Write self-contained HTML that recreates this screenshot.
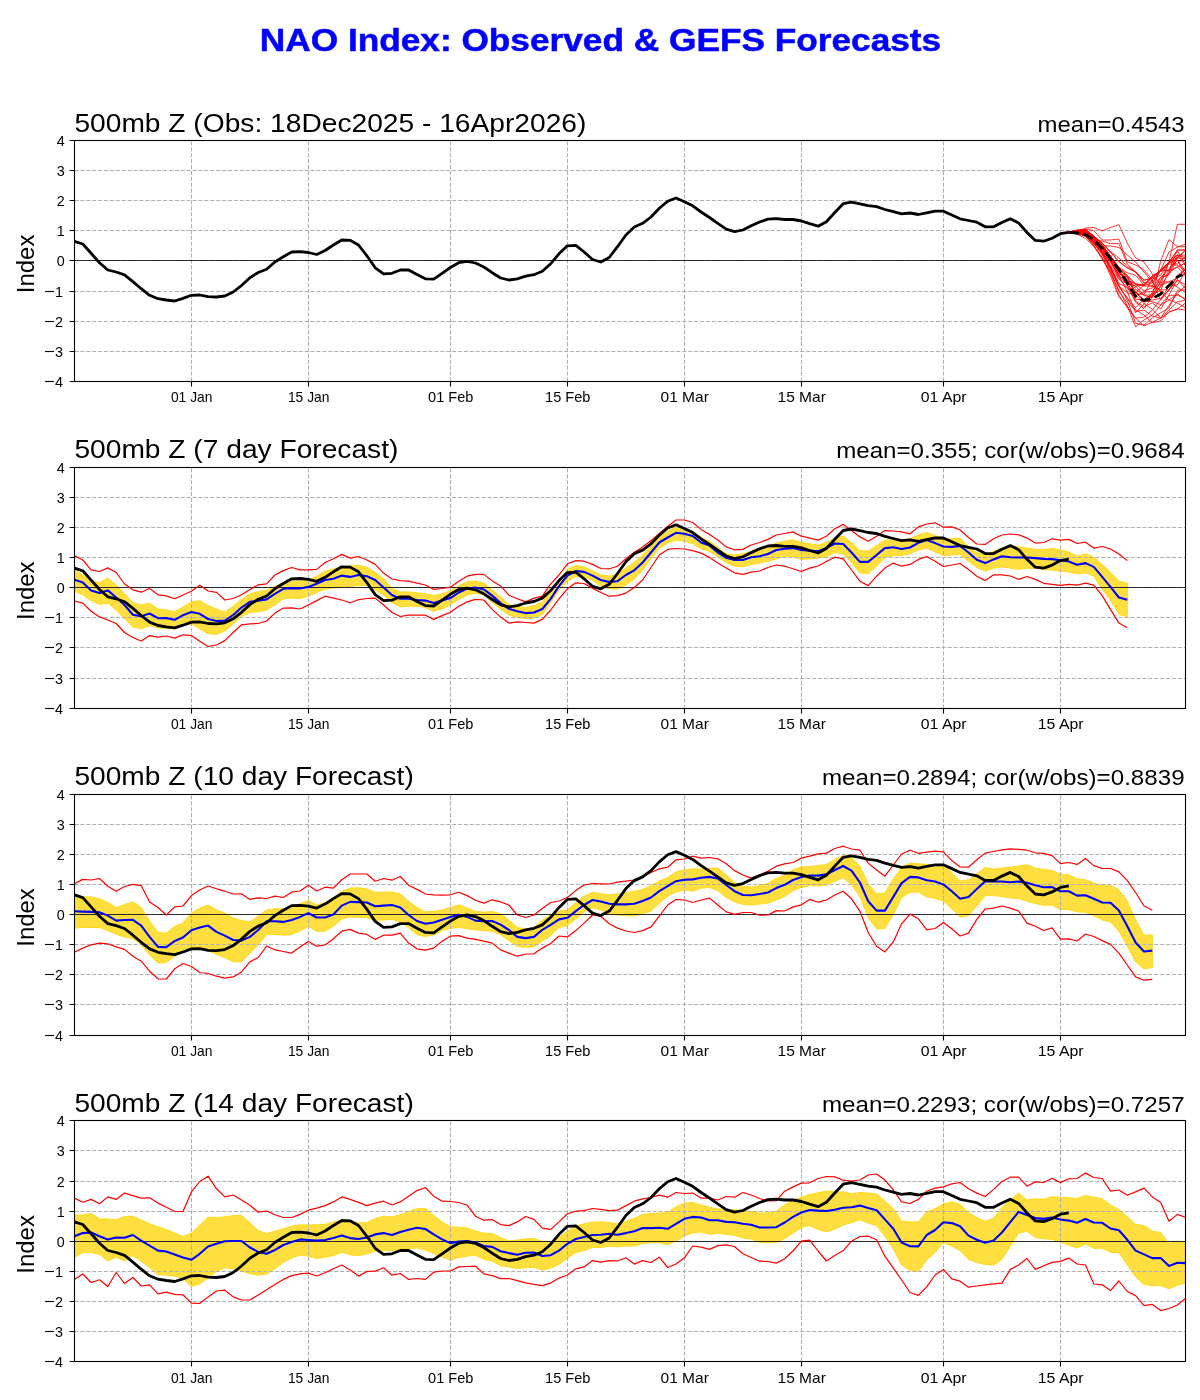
<!DOCTYPE html>
<html><head><meta charset="utf-8"><style>html,body{margin:0;padding:0;background:#fff;width:1200px;height:1400px;overflow:hidden}</style></head><body><svg width="1200" height="1400" viewBox="0 0 1200 1400" style="display:block;will-change:transform">
<rect width="1200" height="1400" fill="#fff"/>
<text x="259.8" y="51.2" font-family='"Liberation Sans", sans-serif' font-weight="bold" font-size="31.3" fill="#0000ff" stroke="#0000ff" stroke-width="0.5" textLength="681.4" lengthAdjust="spacingAndGlyphs">NAO Index: Observed &amp; GEFS Forecasts</text>
<g>
<defs><clipPath id="c0"><rect x="74.4" y="140.4" width="1111.348" height="241.0"/></clipPath></defs>
<g clip-path="url(#c0)">
<path d="M74.5 351.5H1185.5 M74.5 321.5H1185.5 M74.5 291.5H1185.5 M74.5 260.5H1185.5 M74.5 230.5H1185.5 M74.5 200.5H1185.5 M74.5 170.5H1185.5 M191.5 381.5V140.5 M308.5 381.5V140.5 M450.5 381.5V140.5 M567.5 381.5V140.5 M684.5 381.5V140.5 M801.5 381.5V140.5 M943.5 381.5V140.5 M1060.5 381.5V140.5" stroke="#b0b0b0" stroke-width="1.1" stroke-dasharray="4.1 1.8" fill="none"/>
<path d="M74.5 260.5H1185.5" stroke="#000" stroke-width="0.8"/>
<polyline points="74.4,241.3 82.8,244.0 91.1,253.3 99.5,262.7 107.8,270.0 116.2,272.0 124.5,274.9 132.9,281.6 141.2,288.7 149.6,295.3 158.0,298.7 166.3,300.0 174.7,301.0 183.0,298.4 191.4,295.3 199.7,295.0 208.1,296.7 216.5,297.0 224.8,296.0 233.2,292.0 241.5,285.5 249.9,277.8 258.2,272.5 266.6,269.2 274.9,262.0 283.3,256.7 291.7,252.0 300.0,251.7 308.4,252.5 316.7,254.5 325.1,250.5 333.4,245.0 341.8,240.0 350.1,240.3 358.5,245.0 366.9,255.8 375.2,267.8 383.6,273.8 391.9,273.3 400.3,270.0 408.6,270.0 417.0,274.6 425.4,278.8 433.7,279.2 442.1,273.3 450.4,267.5 458.8,262.7 467.1,261.3 475.5,263.0 483.8,267.0 492.2,272.7 500.6,278.0 508.9,280.0 517.3,278.8 525.6,276.2 534.0,274.7 542.3,271.3 550.7,263.7 559.0,253.8 567.4,245.8 575.8,245.3 584.1,252.0 592.5,259.5 600.8,262.0 609.2,257.5 617.5,246.7 625.9,235.0 634.3,227.0 642.6,223.3 651.0,217.0 659.3,208.3 667.7,201.2 676.0,198.0 684.4,201.7 692.7,205.8 701.1,212.0 709.5,217.5 717.8,223.3 726.2,229.2 734.5,231.7 742.9,230.0 751.2,225.8 759.6,222.0 767.9,219.2 776.3,218.7 784.7,219.5 793.0,219.5 801.4,221.0 809.7,223.7 818.1,226.2 826.4,221.7 834.8,212.5 843.2,203.7 851.5,202.2 859.9,203.8 868.2,205.7 876.6,206.7 884.9,209.5 893.3,211.7 901.6,213.8 910.0,213.0 918.4,214.5 926.7,212.8 935.1,211.2 943.4,211.2 951.8,215.0 960.1,218.8 968.5,220.5 976.8,222.2 985.2,226.8 993.6,226.8 1001.9,222.5 1010.3,218.7 1018.6,222.9 1027.0,232.5 1035.3,240.4 1043.7,241.2 1052.1,238.3 1060.4,233.7 1068.8,232.3" fill="none" stroke="#000" stroke-width="2.8" stroke-linejoin="round"/>
<polyline points="1068.8,232.3 1077.1,232.0 1085.5,228.0 1093.8,227.5 1102.2,231.0 1110.5,227.5 1118.9,224.7 1127.3,243.0 1135.6,258.0 1144.0,262.0 1152.3,274.0 1160.7,285.0 1169.0,262.0 1177.4,224.3 1185.7,224.3" fill="none" stroke="#ff0000" stroke-width="0.8" stroke-linejoin="round"/>
<polyline points="1068.8,232.3 1077.1,232.0 1085.5,229.0 1093.8,230.6 1102.2,240.0 1110.5,240.0 1118.9,239.0 1127.3,262.0 1135.6,265.0 1144.0,270.0 1152.3,280.0 1160.7,300.0 1169.0,290.0 1177.4,280.0 1185.7,285.0" fill="none" stroke="#ff0000" stroke-width="0.8" stroke-linejoin="round"/>
<polyline points="1068.8,232.3 1077.1,232.5 1085.5,230.0 1093.8,240.0 1102.2,241.0 1110.5,243.6 1118.9,243.6 1127.3,264.0 1135.6,272.0 1144.0,283.0 1152.3,286.0 1160.7,270.0 1169.0,252.0 1177.4,247.0 1185.7,244.0" fill="none" stroke="#ff0000" stroke-width="0.8" stroke-linejoin="round"/>
<polyline points="1068.8,232.3 1077.1,233.0 1085.5,232.0 1093.8,236.0 1102.2,246.0 1110.5,246.0 1118.9,247.5 1127.3,255.0 1135.6,262.0 1144.0,272.0 1152.3,282.0 1160.7,292.0 1169.0,300.0 1177.4,294.0 1185.7,300.0" fill="none" stroke="#ff0000" stroke-width="0.8" stroke-linejoin="round"/>
<polyline points="1068.8,232.3 1077.1,233.0 1085.5,236.0 1093.8,245.0 1102.2,258.0 1110.5,272.0 1118.9,290.0 1127.3,306.0 1135.6,326.8 1144.0,320.0 1152.3,315.0 1160.7,305.0 1169.0,300.0 1177.4,303.0 1185.7,308.0" fill="none" stroke="#ff0000" stroke-width="0.8" stroke-linejoin="round"/>
<polyline points="1068.8,232.3 1077.1,233.0 1085.5,236.0 1093.8,246.0 1102.2,259.0 1110.5,273.0 1118.9,295.0 1127.3,308.0 1135.6,318.0 1144.0,326.0 1152.3,322.0 1160.7,318.0 1169.0,310.0 1177.4,302.0 1185.7,300.0" fill="none" stroke="#ff0000" stroke-width="0.8" stroke-linejoin="round"/>
<polyline points="1068.8,232.3 1077.1,233.0 1085.5,234.0 1093.8,242.0 1102.2,252.0 1110.5,262.0 1118.9,278.0 1127.3,288.0 1135.6,292.0 1144.0,300.0 1152.3,296.0 1160.7,261.0 1169.0,239.6 1177.4,246.7 1185.7,246.7" fill="none" stroke="#ff0000" stroke-width="0.8" stroke-linejoin="round"/>
<polyline points="1068.8,232.3 1077.1,230.8 1085.5,229.8 1093.8,236.5 1102.2,245.1 1110.5,256.0 1118.9,267.1 1127.3,275.7 1135.6,284.0 1144.0,285.0 1152.3,276.0 1160.7,271.0 1169.0,270.2 1177.4,250.0 1185.7,250.0" fill="none" stroke="#ff0000" stroke-width="0.8" stroke-linejoin="round"/>
<polyline points="1068.8,232.3 1077.1,233.1 1085.5,234.9 1093.8,243.7 1102.2,252.8 1110.5,269.6 1118.9,286.2 1127.3,292.7 1135.6,295.6 1144.0,292.0 1152.3,291.6 1160.7,279.6 1169.0,272.7 1177.4,266.7 1185.7,263.2" fill="none" stroke="#ff0000" stroke-width="0.8" stroke-linejoin="round"/>
<polyline points="1068.8,232.3 1077.1,231.1 1085.5,230.6 1093.8,237.8 1102.2,247.0 1110.5,258.1 1118.9,270.8 1127.3,279.5 1135.6,284.1 1144.0,291.0 1152.3,287.7 1160.7,277.1 1169.0,269.9 1177.4,260.1 1185.7,271.5" fill="none" stroke="#ff0000" stroke-width="0.8" stroke-linejoin="round"/>
<polyline points="1068.8,232.3 1077.1,233.4 1085.5,234.9 1093.8,242.2 1102.2,253.3 1110.5,266.9 1118.9,283.5 1127.3,287.5 1135.6,301.4 1144.0,306.5 1152.3,303.0 1160.7,309.1 1169.0,295.4 1177.4,295.2 1185.7,298.8" fill="none" stroke="#ff0000" stroke-width="0.8" stroke-linejoin="round"/>
<polyline points="1068.8,232.3 1077.1,232.6 1085.5,235.1 1093.8,242.6 1102.2,253.5 1110.5,266.8 1118.9,284.9 1127.3,300.3 1135.6,323.4 1144.0,325.0 1152.3,317.9 1160.7,312.8 1169.0,308.0 1177.4,290.2 1185.7,289.7" fill="none" stroke="#ff0000" stroke-width="0.8" stroke-linejoin="round"/>
<polyline points="1068.8,232.3 1077.1,230.2 1085.5,230.1 1093.8,236.0 1102.2,245.0 1110.5,256.0 1118.9,269.7 1127.3,275.7 1135.6,284.0 1144.0,286.0 1152.3,286.2 1160.7,289.8 1169.0,289.9 1177.4,276.4 1185.7,274.3" fill="none" stroke="#ff0000" stroke-width="0.8" stroke-linejoin="round"/>
<polyline points="1068.8,232.3 1077.1,232.1 1085.5,232.5 1093.8,238.8 1102.2,247.5 1110.5,258.5 1118.9,270.7 1127.3,281.9 1135.6,286.1 1144.0,285.0 1152.3,276.0 1160.7,271.0 1169.0,263.7 1177.4,265.3 1185.7,271.3" fill="none" stroke="#ff0000" stroke-width="0.8" stroke-linejoin="round"/>
<polyline points="1068.8,232.3 1077.1,232.2 1085.5,232.5 1093.8,240.6 1102.2,251.5 1110.5,267.6 1118.9,286.7 1127.3,297.9 1135.6,307.8 1144.0,299.2 1152.3,295.9 1160.7,281.2 1169.0,262.0 1177.4,250.0 1185.7,250.0" fill="none" stroke="#ff0000" stroke-width="0.8" stroke-linejoin="round"/>
<polyline points="1068.8,232.3 1077.1,230.2 1085.5,229.5 1093.8,236.0 1102.2,245.0 1110.5,256.0 1118.9,269.7 1127.3,281.1 1135.6,284.0 1144.0,285.0 1152.3,276.0 1160.7,271.0 1169.0,262.0 1177.4,260.3 1185.7,275.3" fill="none" stroke="#ff0000" stroke-width="0.8" stroke-linejoin="round"/>
<polyline points="1068.8,232.3 1077.1,231.2 1085.5,230.6 1093.8,236.9 1102.2,245.3 1110.5,258.0 1118.9,267.7 1127.3,275.7 1135.6,293.7 1144.0,294.6 1152.3,279.0 1160.7,275.2 1169.0,262.0 1177.4,250.8 1185.7,265.2" fill="none" stroke="#ff0000" stroke-width="0.8" stroke-linejoin="round"/>
<polyline points="1068.8,232.3 1077.1,233.8 1085.5,236.3 1093.8,243.3 1102.2,254.7 1110.5,270.8 1118.9,291.6 1127.3,302.7 1135.6,309.6 1144.0,315.1 1152.3,322.7 1160.7,321.0 1169.0,312.0 1177.4,309.0 1185.7,310.0" fill="none" stroke="#ff0000" stroke-width="0.8" stroke-linejoin="round"/>
<polyline points="1068.8,232.3 1077.1,230.6 1085.5,229.5 1093.8,236.0 1102.2,245.0 1110.5,256.0 1118.9,268.4 1127.3,285.8 1135.6,294.7 1144.0,303.7 1152.3,309.4 1160.7,317.9 1169.0,305.5 1177.4,293.1 1185.7,285.6" fill="none" stroke="#ff0000" stroke-width="0.8" stroke-linejoin="round"/>
<polyline points="1068.8,232.3 1077.1,230.4 1085.5,230.8 1093.8,238.4 1102.2,247.8 1110.5,261.0 1118.9,276.8 1127.3,280.1 1135.6,292.6 1144.0,301.2 1152.3,301.7 1160.7,304.6 1169.0,295.0 1177.4,279.5 1185.7,288.7" fill="none" stroke="#ff0000" stroke-width="0.8" stroke-linejoin="round"/>
<polyline points="1068.8,232.3 1077.1,231.9 1085.5,232.7 1093.8,239.5 1102.2,250.7 1110.5,265.6 1118.9,279.3 1127.3,283.9 1135.6,286.1 1144.0,295.1 1152.3,295.0 1160.7,282.4 1169.0,281.6 1177.4,287.3 1185.7,292.6" fill="none" stroke="#ff0000" stroke-width="0.8" stroke-linejoin="round"/>
<polyline points="1068.8,232.3 1077.1,230.8 1085.5,229.6 1093.8,237.4 1102.2,247.1 1110.5,259.3 1118.9,275.2 1127.3,284.5 1135.6,302.3 1144.0,308.6 1152.3,296.9 1160.7,287.0 1169.0,272.9 1177.4,255.2 1185.7,257.8" fill="none" stroke="#ff0000" stroke-width="0.8" stroke-linejoin="round"/>
<polyline points="1068.8,232.3 1077.1,230.3 1085.5,230.6 1093.8,236.9 1102.2,246.0 1110.5,257.9 1118.9,272.8 1127.3,281.4 1135.6,299.6 1144.0,299.6 1152.3,293.9 1160.7,290.6 1169.0,269.6 1177.4,257.2 1185.7,250.0" fill="none" stroke="#ff0000" stroke-width="0.8" stroke-linejoin="round"/>
<polyline points="1068.8,232.3 1077.1,230.2 1085.5,229.5 1093.8,236.6 1102.2,245.9 1110.5,256.5 1118.9,267.9 1127.3,277.8 1135.6,292.6 1144.0,285.1 1152.3,277.6 1160.7,271.0 1169.0,262.0 1177.4,258.0 1185.7,258.4" fill="none" stroke="#ff0000" stroke-width="0.8" stroke-linejoin="round"/>
<polyline points="1068.8,232.3 1077.1,232.9 1085.5,234.6 1093.8,242.4 1102.2,252.8 1110.5,267.8 1118.9,286.4 1127.3,298.6 1135.6,311.5 1144.0,310.1 1152.3,315.9 1160.7,318.4 1169.0,312.0 1177.4,309.0 1185.7,302.8" fill="none" stroke="#ff0000" stroke-width="0.8" stroke-linejoin="round"/>
<polyline points="1068.8,232.3 1077.1,233.0 1085.5,234.2 1093.8,240.6 1102.2,250.4 1110.5,262.1 1118.9,274.5 1127.3,277.0 1135.6,289.2 1144.0,295.5 1152.3,297.7 1160.7,285.4 1169.0,281.8 1177.4,278.1 1185.7,267.9" fill="none" stroke="#ff0000" stroke-width="0.8" stroke-linejoin="round"/>
<polyline points="1068.8,232.3 1077.1,234.2 1085.5,238.3 1093.8,246.4 1102.2,257.4 1110.5,275.7 1118.9,297.0 1127.3,306.3 1135.6,318.2 1144.0,317.2 1152.3,310.0 1160.7,299.6 1169.0,286.0 1177.4,284.9 1185.7,271.1" fill="none" stroke="#ff0000" stroke-width="0.8" stroke-linejoin="round"/>
<polyline points="1068.8,232.3 1077.1,231.5 1085.5,231.7 1093.8,238.9 1102.2,248.6 1110.5,259.4 1118.9,275.6 1127.3,291.6 1135.6,312.7 1144.0,303.8 1152.3,292.5 1160.7,277.1 1169.0,275.1 1177.4,258.6 1185.7,250.0" fill="none" stroke="#ff0000" stroke-width="0.8" stroke-linejoin="round"/>
<polyline points="1068.8,232.3 1077.1,233.1 1085.5,233.8 1093.8,238.8 1102.2,246.7 1110.5,257.3 1118.9,267.4 1127.3,272.8 1135.6,275.2 1144.0,285.4 1152.3,283.0 1160.7,270.0 1169.0,270.7 1177.4,267.0 1185.7,276.0" fill="none" stroke="#ff0000" stroke-width="0.8" stroke-linejoin="round"/>
<polyline points="1068.8,232.3 1077.1,231.7 1085.5,231.8 1093.8,236.9 1102.2,242.9 1110.5,251.5 1118.9,261.5 1127.3,267.8 1135.6,272.0 1144.0,280.3 1152.3,278.0 1160.7,270.0 1169.0,262.0 1177.4,255.0 1185.7,255.0" fill="none" stroke="#ff0000" stroke-width="0.8" stroke-linejoin="round"/>
<polyline points="1068.8,232.3 1077.1,232.3 1085.5,232.3 1093.8,237.6 1102.2,243.4 1110.5,251.5 1118.9,258.0 1127.3,266.0 1135.6,272.0 1144.0,282.8 1152.3,281.8 1160.7,270.0 1169.0,262.0 1177.4,264.1 1185.7,256.0" fill="none" stroke="#ff0000" stroke-width="0.8" stroke-linejoin="round"/>
<polyline points="1068.8,232.3 1077.1,233.5 1085.5,235.5 1093.8,241.2 1102.2,248.9 1110.5,261.1 1118.9,272.0 1127.3,280.5 1135.6,292.0 1144.0,300.0 1152.3,300.0 1160.7,298.3 1169.0,290.1 1177.4,275.4 1185.7,269.5" fill="none" stroke="#ff0000" stroke-width="0.8" stroke-linejoin="round"/>
<polyline points="1068.8,232.3 1077.1,231.7 1085.5,231.0 1093.8,236.0 1102.2,242.8 1110.5,252.6 1118.9,261.7 1127.3,268.1 1135.6,272.0 1144.0,280.0 1152.3,278.0 1160.7,270.0 1169.0,262.0 1177.4,255.0 1185.7,266.1" fill="none" stroke="#ff0000" stroke-width="0.8" stroke-linejoin="round"/>
<polyline points="1068.8,232.3 1077.1,233.0 1085.5,234.5 1093.8,240.0 1102.2,248.5 1110.5,258.5 1118.9,269.5 1127.3,283.0 1135.6,296.5 1144.0,300.5 1152.3,298.5 1160.7,294.0 1169.0,285.5 1177.4,277.0 1182.4,274.5" fill="none" stroke="#000" stroke-width="2.8" stroke-dasharray="10.3 4.4"/>
</g>
<rect x="74.5" y="140.5" width="1111.0" height="241.0" fill="none" stroke="#000" stroke-width="1.1"/>
<path d="M69.6 381.5H74.5 M69.6 351.5H74.5 M69.6 321.5H74.5 M69.6 291.5H74.5 M69.6 260.5H74.5 M69.6 230.5H74.5 M69.6 200.5H74.5 M69.6 170.5H74.5 M69.6 140.5H74.5 M191.5 381.5V386.4 M308.5 381.5V386.4 M450.5 381.5V386.4 M567.5 381.5V386.4 M684.5 381.5V386.4 M801.5 381.5V386.4 M943.5 381.5V386.4 M1060.5 381.5V386.4" stroke="#000" stroke-width="1.1"/>
<text x="62.9" y="387.0" font-family='"Liberation Sans", sans-serif' font-size="14.3" text-anchor="end">4</text>
<rect x="45.1" y="380.95" width="8.9" height="1.1" fill="#000"/>
<text x="62.9" y="357.0" font-family='"Liberation Sans", sans-serif' font-size="14.3" text-anchor="end">3</text>
<rect x="45.1" y="350.95" width="8.9" height="1.1" fill="#000"/>
<text x="62.9" y="327.0" font-family='"Liberation Sans", sans-serif' font-size="14.3" text-anchor="end">2</text>
<rect x="45.1" y="320.95" width="8.9" height="1.1" fill="#000"/>
<text x="62.9" y="297.0" font-family='"Liberation Sans", sans-serif' font-size="14.3" text-anchor="end">1</text>
<rect x="45.1" y="290.95" width="8.9" height="1.1" fill="#000"/>
<text x="64.6" y="266.0" font-family='"Liberation Sans", sans-serif' font-size="14.3" text-anchor="end">0</text>
<text x="64.6" y="236.0" font-family='"Liberation Sans", sans-serif' font-size="14.3" text-anchor="end">1</text>
<text x="64.6" y="206.0" font-family='"Liberation Sans", sans-serif' font-size="14.3" text-anchor="end">2</text>
<text x="64.6" y="176.0" font-family='"Liberation Sans", sans-serif' font-size="14.3" text-anchor="end">3</text>
<text x="64.6" y="146.0" font-family='"Liberation Sans", sans-serif' font-size="14.3" text-anchor="end">4</text>
<text x="191.7" y="402.4" font-family='"Liberation Sans", sans-serif' font-size="13.9" text-anchor="middle" textLength="41.5" lengthAdjust="spacingAndGlyphs">01 Jan</text>
<text x="308.7" y="402.4" font-family='"Liberation Sans", sans-serif' font-size="13.9" text-anchor="middle" textLength="41.5" lengthAdjust="spacingAndGlyphs">15 Jan</text>
<text x="450.7" y="402.4" font-family='"Liberation Sans", sans-serif' font-size="13.9" text-anchor="middle" textLength="45.3" lengthAdjust="spacingAndGlyphs">01 Feb</text>
<text x="567.7" y="402.4" font-family='"Liberation Sans", sans-serif' font-size="13.9" text-anchor="middle" textLength="45.3" lengthAdjust="spacingAndGlyphs">15 Feb</text>
<text x="684.7" y="402.4" font-family='"Liberation Sans", sans-serif' font-size="13.9" text-anchor="middle" textLength="48.3" lengthAdjust="spacingAndGlyphs">01 Mar</text>
<text x="801.7" y="402.4" font-family='"Liberation Sans", sans-serif' font-size="13.9" text-anchor="middle" textLength="48.3" lengthAdjust="spacingAndGlyphs">15 Mar</text>
<text x="943.7" y="402.4" font-family='"Liberation Sans", sans-serif' font-size="13.9" text-anchor="middle" textLength="45.8" lengthAdjust="spacingAndGlyphs">01 Apr</text>
<text x="1060.7" y="402.4" font-family='"Liberation Sans", sans-serif' font-size="13.9" text-anchor="middle" textLength="45.8" lengthAdjust="spacingAndGlyphs">15 Apr</text>
<text x="74.4" y="131.8" font-family='"Liberation Sans", sans-serif' font-size="25.3" textLength="512.0" lengthAdjust="spacingAndGlyphs">500mb Z (Obs: 18Dec2025 - 16Apr2026)</text>
<text x="1184.6" y="131.8" font-family='"Liberation Sans", sans-serif' font-size="22.5" text-anchor="end" textLength="147.0" lengthAdjust="spacingAndGlyphs">mean=0.4543</text>
<text transform="translate(33.9,263.9) rotate(-90)" font-family='"Liberation Sans", sans-serif' font-size="24.4" text-anchor="middle" textLength="58.5" lengthAdjust="spacingAndGlyphs">Index</text>
</g>
<g>
<defs><clipPath id="c1"><rect x="74.4" y="467.22" width="1111.348" height="241.0"/></clipPath></defs>
<g clip-path="url(#c1)">
<polygon points="74.4,570.0 82.8,575.0 91.1,581.0 99.5,582.5 107.8,578.1 116.2,585.0 124.5,593.8 132.9,602.8 141.2,605.0 149.6,603.1 158.0,609.0 166.3,609.8 174.7,611.9 183.0,606.9 191.4,601.9 199.7,600.6 208.1,605.6 216.5,609.0 224.8,612.2 233.2,606.2 241.5,599.4 249.9,593.8 258.2,591.5 266.6,590.6 274.9,586.2 283.3,582.5 291.7,581.0 300.0,581.2 308.4,580.2 316.7,576.2 325.1,571.2 333.4,569.0 341.8,567.0 350.1,565.8 358.5,565.4 366.9,567.2 375.2,572.5 383.6,578.8 391.9,588.8 400.3,591.9 408.6,591.9 417.0,592.8 425.4,593.8 433.7,595.6 442.1,593.8 450.4,590.6 458.8,585.6 467.1,581.9 475.5,581.2 483.8,583.1 492.2,590.0 500.6,596.9 508.9,604.4 517.3,606.2 525.6,607.8 534.0,605.6 542.3,601.9 550.7,590.6 559.0,580.6 567.4,569.6 575.8,565.4 584.1,566.9 592.5,571.0 600.8,575.0 609.2,576.0 617.5,574.4 625.9,568.1 634.3,562.3 642.6,555.0 651.0,546.2 659.3,537.5 667.7,531.2 676.0,526.9 684.4,529.0 692.7,531.2 701.1,537.5 709.5,541.2 717.8,547.5 726.2,553.8 734.5,555.0 742.9,553.8 751.2,551.2 759.6,548.1 767.9,546.0 776.3,543.1 784.7,541.2 793.0,539.8 801.4,542.5 809.7,543.8 818.1,545.0 826.4,542.5 834.8,538.1 843.2,536.2 851.5,542.5 859.9,550.6 868.2,551.2 876.6,545.6 884.9,540.0 893.3,540.0 901.6,540.0 910.0,538.8 918.4,535.0 926.7,532.5 935.1,535.6 943.4,538.8 951.8,538.8 960.1,538.1 968.5,547.5 976.8,552.5 985.2,555.0 993.6,551.2 1001.9,548.1 1010.3,546.2 1018.6,546.9 1027.0,548.1 1035.3,549.4 1043.7,549.6 1052.1,548.3 1060.4,550.0 1068.8,551.9 1077.1,556.2 1085.5,553.8 1093.8,557.2 1102.2,564.4 1110.5,572.5 1118.9,581.2 1127.3,583.1 1127.3,616.9 1118.9,614.4 1110.5,600.0 1102.2,589.4 1093.8,576.2 1085.5,572.8 1077.1,574.0 1068.8,571.9 1060.4,571.2 1052.1,570.3 1043.7,569.1 1035.3,568.5 1027.0,568.1 1018.6,569.4 1010.3,568.1 1001.9,566.9 993.6,568.1 985.2,571.2 976.8,567.5 968.5,561.2 960.1,554.4 951.8,555.0 943.4,555.6 935.1,551.9 926.7,548.1 918.4,550.0 910.0,553.8 901.6,555.6 893.3,555.6 884.9,557.5 876.6,566.2 868.2,573.8 859.9,573.1 851.5,562.5 843.2,553.8 834.8,552.5 826.4,556.9 818.1,558.1 809.7,558.8 801.4,559.4 793.0,556.9 784.7,556.2 776.3,558.8 767.9,561.2 759.6,563.1 751.2,564.4 742.9,566.9 734.5,566.2 726.2,562.5 717.8,556.9 709.5,551.2 701.1,548.8 692.7,543.8 684.4,541.2 676.0,540.0 667.7,543.1 659.3,548.1 651.0,558.8 642.6,570.0 634.3,579.1 625.9,585.0 617.5,589.0 609.2,588.8 600.8,586.2 592.5,580.0 584.1,576.9 575.8,576.2 567.4,581.2 559.0,590.0 550.7,602.5 542.3,614.4 534.0,618.1 525.6,618.5 517.3,617.5 508.9,615.0 500.6,609.1 492.2,602.5 483.8,595.0 475.5,593.1 467.1,595.0 458.8,599.4 450.4,605.0 442.1,608.8 433.7,611.2 425.4,607.5 417.0,606.2 408.6,606.2 400.3,606.9 391.9,602.5 383.6,595.0 375.2,590.0 366.9,585.6 358.5,585.4 350.1,586.5 341.8,587.5 333.4,588.1 325.1,589.0 316.7,592.5 308.4,596.2 300.0,598.5 291.7,598.1 283.3,598.8 274.9,605.0 266.6,610.0 258.2,611.9 249.9,612.5 241.5,616.2 233.2,623.8 224.8,631.0 216.5,634.4 208.1,633.8 199.7,628.8 191.4,623.8 183.0,625.6 174.7,628.8 166.3,628.5 158.0,628.1 149.6,625.6 141.2,628.8 132.9,626.9 124.5,618.8 116.2,610.0 107.8,603.1 99.5,604.4 91.1,600.6 82.8,594.8 74.4,591.2" fill="#ffdf40" stroke="#ffd81a" stroke-width="1" stroke-linejoin="round"/>
<path d="M74.5 678.5H1185.5 M74.5 647.5H1185.5 M74.5 617.5H1185.5 M74.5 587.5H1185.5 M74.5 557.5H1185.5 M74.5 527.5H1185.5 M74.5 497.5H1185.5 M191.5 708.5V467.5 M308.5 708.5V467.5 M450.5 708.5V467.5 M567.5 708.5V467.5 M684.5 708.5V467.5 M801.5 708.5V467.5 M943.5 708.5V467.5 M1060.5 708.5V467.5" stroke="#b0b0b0" stroke-width="1.1" stroke-dasharray="4.1 1.8" fill="none"/>
<path d="M74.5 587.5H1185.5" stroke="#000" stroke-width="0.8"/>
<polyline points="74.4,555.6 82.8,560.0 91.1,569.8 99.5,571.5 107.8,567.9 116.2,572.5 124.5,584.0 132.9,589.8 141.2,592.2 149.6,588.5 158.0,594.8 166.3,595.9 174.7,598.8 183.0,595.0 191.4,591.2 199.7,585.2 208.1,591.0 216.5,592.4 224.8,600.0 233.2,598.5 241.5,594.8 249.9,589.4 258.2,584.8 266.6,583.8 274.9,575.0 283.3,570.6 291.7,567.5 300.0,569.8 308.4,569.8 316.7,569.4 325.1,562.5 333.4,558.8 341.8,554.4 350.1,558.1 358.5,556.5 366.9,560.0 375.2,564.4 383.6,573.1 391.9,579.0 400.3,580.6 408.6,581.2 417.0,583.1 425.4,585.0 433.7,589.4 442.1,588.5 450.4,587.2 458.8,581.2 467.1,576.2 475.5,574.4 483.8,574.4 492.2,580.9 500.6,585.9 508.9,595.2 517.3,598.8 525.6,601.9 534.0,598.1 542.3,596.2 550.7,583.8 559.0,575.0 567.4,563.8 575.8,560.6 584.1,561.2 592.5,564.4 600.8,568.5 609.2,568.8 617.5,566.2 625.9,558.8 634.3,552.2 642.6,546.9 651.0,540.6 659.3,533.5 667.7,526.5 676.0,520.0 684.4,520.0 692.7,522.5 701.1,529.4 709.5,534.4 717.8,540.0 726.2,546.9 734.5,549.8 742.9,549.4 751.2,545.0 759.6,542.5 767.9,539.4 776.3,535.0 784.7,533.5 793.0,531.9 801.4,536.2 809.7,538.1 818.1,540.2 826.4,536.2 834.8,528.8 843.2,524.4 851.5,530.6 859.9,536.9 868.2,541.2 876.6,536.2 884.9,530.6 893.3,531.0 901.6,531.9 910.0,533.8 918.4,526.9 926.7,524.0 935.1,522.8 943.4,527.2 951.8,526.9 960.1,530.0 968.5,537.5 976.8,544.0 985.2,544.4 993.6,538.8 1001.9,535.0 1010.3,534.0 1018.6,534.8 1027.0,538.1 1035.3,543.1 1043.7,542.5 1052.1,538.8 1060.4,540.1 1068.8,539.4 1077.1,543.5 1085.5,542.2 1093.8,548.1 1102.2,546.5 1110.5,549.0 1118.9,554.0 1127.3,560.6" fill="none" stroke="#ff0000" stroke-width="1.2" stroke-linejoin="round"/>
<polyline points="74.4,601.0 82.8,603.1 91.1,611.2 99.5,616.9 107.8,620.0 116.2,623.5 124.5,632.5 132.9,637.5 141.2,641.0 149.6,635.6 158.0,637.2 166.3,636.0 174.7,638.1 183.0,634.8 191.4,635.6 199.7,641.2 208.1,646.5 216.5,645.0 224.8,640.6 233.2,632.5 241.5,624.8 249.9,623.8 258.2,623.5 266.6,621.0 274.9,613.1 283.3,608.1 291.7,607.8 300.0,609.0 308.4,605.0 316.7,600.6 325.1,596.2 333.4,598.1 341.8,600.0 350.1,602.8 358.5,599.7 366.9,598.5 375.2,598.1 383.6,605.0 391.9,612.5 400.3,616.5 408.6,615.2 417.0,615.2 425.4,615.2 433.7,619.4 442.1,615.6 450.4,612.2 458.8,606.2 467.1,601.9 475.5,599.4 483.8,600.0 492.2,609.4 500.6,617.1 508.9,623.1 517.3,621.9 525.6,622.5 534.0,623.1 542.3,619.4 550.7,610.0 559.0,598.8 567.4,588.8 575.8,582.8 584.1,583.5 592.5,588.1 600.8,592.5 609.2,596.2 617.5,595.6 625.9,593.1 634.3,587.5 642.6,580.0 651.0,567.5 659.3,555.0 667.7,549.4 676.0,548.5 684.4,549.0 692.7,550.6 701.1,553.1 709.5,557.5 717.8,563.1 726.2,568.1 734.5,572.8 742.9,574.4 751.2,572.2 759.6,571.0 767.9,567.5 776.3,565.0 784.7,566.2 793.0,568.8 801.4,571.5 809.7,568.1 818.1,566.0 826.4,561.5 834.8,557.2 843.2,558.8 851.5,570.0 859.9,581.2 868.2,585.6 876.6,576.2 884.9,568.1 893.3,563.1 901.6,566.2 910.0,564.4 918.4,559.4 926.7,556.5 935.1,561.2 943.4,566.5 951.8,565.0 960.1,563.5 968.5,569.4 976.8,576.2 985.2,580.6 993.6,574.8 1001.9,574.8 1010.3,576.0 1018.6,579.4 1027.0,576.5 1035.3,579.4 1043.7,583.3 1052.1,584.4 1060.4,585.4 1068.8,584.4 1077.1,585.2 1085.5,583.1 1093.8,585.2 1102.2,595.6 1110.5,609.4 1118.9,623.1 1127.3,627.8" fill="none" stroke="#ff0000" stroke-width="1.2" stroke-linejoin="round"/>
<polyline points="74.4,579.8 82.8,582.5 91.1,590.6 99.5,593.1 107.8,590.4 116.2,597.5 124.5,605.0 132.9,614.8 141.2,616.2 149.6,613.5 158.0,618.2 166.3,618.1 174.7,619.8 183.0,615.2 191.4,612.0 199.7,613.8 208.1,619.0 216.5,621.0 224.8,620.6 233.2,615.0 241.5,607.5 249.9,601.9 258.2,600.6 266.6,599.4 274.9,593.8 283.3,588.8 291.7,588.1 300.0,588.5 308.4,586.9 316.7,583.8 325.1,580.0 333.4,578.8 341.8,575.6 350.1,576.9 358.5,575.0 366.9,576.2 375.2,580.0 383.6,587.5 391.9,595.0 400.3,598.8 408.6,598.8 417.0,600.0 425.4,600.6 433.7,603.1 442.1,600.6 450.4,598.1 458.8,592.5 467.1,588.5 475.5,587.5 483.8,589.4 492.2,595.6 500.6,603.1 508.9,608.8 517.3,611.2 525.6,613.1 534.0,612.5 542.3,609.0 550.7,598.8 559.0,586.2 567.4,575.6 575.8,571.0 584.1,571.9 592.5,575.6 600.8,580.0 609.2,581.9 617.5,581.2 625.9,575.0 634.3,570.3 642.6,562.5 651.0,552.5 659.3,542.5 667.7,537.5 676.0,532.8 684.4,533.8 692.7,536.0 701.1,542.5 709.5,545.6 717.8,552.5 726.2,557.8 734.5,560.0 742.9,560.0 751.2,557.2 759.6,556.2 767.9,554.0 776.3,550.0 784.7,548.8 793.0,548.1 801.4,550.0 809.7,550.6 818.1,551.2 826.4,548.1 834.8,543.5 843.2,544.0 851.5,552.5 859.9,561.9 868.2,561.9 876.6,555.0 884.9,548.1 893.3,547.2 901.6,549.0 910.0,547.5 918.4,542.8 926.7,540.0 935.1,543.1 943.4,546.5 951.8,546.9 960.1,546.0 968.5,552.5 976.8,559.8 985.2,563.1 993.6,559.4 1001.9,556.2 1010.3,557.2 1018.6,557.5 1027.0,557.5 1035.3,558.1 1043.7,558.9 1052.1,559.1 1060.4,560.2 1068.8,561.5 1077.1,564.8 1085.5,563.1 1093.8,566.9 1102.2,576.9 1110.5,586.9 1118.9,597.5 1127.3,599.8" fill="none" stroke="#0000ff" stroke-width="2.1" stroke-linejoin="round"/>
<polyline points="74.4,568.1 82.8,570.8 91.1,580.1 99.5,589.5 107.8,596.8 116.2,598.8 124.5,601.7 132.9,608.4 141.2,615.5 149.6,622.1 158.0,625.5 166.3,626.8 174.7,627.8 183.0,625.2 191.4,622.1 199.7,621.8 208.1,623.5 216.5,623.8 224.8,622.8 233.2,618.8 241.5,612.3 249.9,604.6 258.2,599.3 266.6,596.0 274.9,588.8 283.3,583.5 291.7,578.8 300.0,578.5 308.4,579.3 316.7,581.3 325.1,577.3 333.4,571.8 341.8,566.8 350.1,567.1 358.5,571.8 366.9,582.6 375.2,594.6 383.6,600.6 391.9,600.1 400.3,596.8 408.6,596.8 417.0,601.4 425.4,605.6 433.7,606.0 442.1,600.1 450.4,594.3 458.8,589.5 467.1,588.1 475.5,589.8 483.8,593.8 492.2,599.5 500.6,604.8 508.9,606.8 517.3,605.6 525.6,603.0 534.0,601.5 542.3,598.1 550.7,590.5 559.0,580.6 567.4,572.6 575.8,572.1 584.1,578.8 592.5,586.3 600.8,588.8 609.2,584.3 617.5,573.5 625.9,561.8 634.3,553.8 642.6,550.1 651.0,543.8 659.3,535.1 667.7,528.0 676.0,524.8 684.4,528.5 692.7,532.6 701.1,538.8 709.5,544.3 717.8,550.1 726.2,556.0 734.5,558.5 742.9,556.8 751.2,552.6 759.6,548.8 767.9,546.0 776.3,545.5 784.7,546.3 793.0,546.3 801.4,547.8 809.7,550.5 818.1,553.0 826.4,548.5 834.8,539.3 843.2,530.5 851.5,529.0 859.9,530.6 868.2,532.5 876.6,533.5 884.9,536.3 893.3,538.5 901.6,540.6 910.0,539.8 918.4,541.3 926.7,539.6 935.1,538.0 943.4,538.0 951.8,541.8 960.1,545.6 968.5,547.3 976.8,549.0 985.2,553.6 993.6,553.6 1001.9,549.3 1010.3,545.6 1018.6,549.7 1027.0,559.3 1035.3,567.2 1043.7,568.1 1052.1,565.1 1060.4,560.6 1068.8,559.1" fill="none" stroke="#000" stroke-width="2.8" stroke-linejoin="round"/>
</g>
<rect x="74.5" y="467.5" width="1111.0" height="241.0" fill="none" stroke="#000" stroke-width="1.1"/>
<path d="M69.6 708.5H74.5 M69.6 678.5H74.5 M69.6 647.5H74.5 M69.6 617.5H74.5 M69.6 587.5H74.5 M69.6 557.5H74.5 M69.6 527.5H74.5 M69.6 497.5H74.5 M69.6 467.5H74.5 M191.5 708.5V713.4 M308.5 708.5V713.4 M450.5 708.5V713.4 M567.5 708.5V713.4 M684.5 708.5V713.4 M801.5 708.5V713.4 M943.5 708.5V713.4 M1060.5 708.5V713.4" stroke="#000" stroke-width="1.1"/>
<text x="62.9" y="714.0" font-family='"Liberation Sans", sans-serif' font-size="14.3" text-anchor="end">4</text>
<rect x="45.1" y="707.95" width="8.9" height="1.1" fill="#000"/>
<text x="62.9" y="684.0" font-family='"Liberation Sans", sans-serif' font-size="14.3" text-anchor="end">3</text>
<rect x="45.1" y="677.95" width="8.9" height="1.1" fill="#000"/>
<text x="62.9" y="653.0" font-family='"Liberation Sans", sans-serif' font-size="14.3" text-anchor="end">2</text>
<rect x="45.1" y="646.95" width="8.9" height="1.1" fill="#000"/>
<text x="62.9" y="623.0" font-family='"Liberation Sans", sans-serif' font-size="14.3" text-anchor="end">1</text>
<rect x="45.1" y="616.95" width="8.9" height="1.1" fill="#000"/>
<text x="64.6" y="593.0" font-family='"Liberation Sans", sans-serif' font-size="14.3" text-anchor="end">0</text>
<text x="64.6" y="563.0" font-family='"Liberation Sans", sans-serif' font-size="14.3" text-anchor="end">1</text>
<text x="64.6" y="533.0" font-family='"Liberation Sans", sans-serif' font-size="14.3" text-anchor="end">2</text>
<text x="64.6" y="503.0" font-family='"Liberation Sans", sans-serif' font-size="14.3" text-anchor="end">3</text>
<text x="64.6" y="473.0" font-family='"Liberation Sans", sans-serif' font-size="14.3" text-anchor="end">4</text>
<text x="191.7" y="729.2" font-family='"Liberation Sans", sans-serif' font-size="13.9" text-anchor="middle" textLength="41.5" lengthAdjust="spacingAndGlyphs">01 Jan</text>
<text x="308.7" y="729.2" font-family='"Liberation Sans", sans-serif' font-size="13.9" text-anchor="middle" textLength="41.5" lengthAdjust="spacingAndGlyphs">15 Jan</text>
<text x="450.7" y="729.2" font-family='"Liberation Sans", sans-serif' font-size="13.9" text-anchor="middle" textLength="45.3" lengthAdjust="spacingAndGlyphs">01 Feb</text>
<text x="567.7" y="729.2" font-family='"Liberation Sans", sans-serif' font-size="13.9" text-anchor="middle" textLength="45.3" lengthAdjust="spacingAndGlyphs">15 Feb</text>
<text x="684.7" y="729.2" font-family='"Liberation Sans", sans-serif' font-size="13.9" text-anchor="middle" textLength="48.3" lengthAdjust="spacingAndGlyphs">01 Mar</text>
<text x="801.7" y="729.2" font-family='"Liberation Sans", sans-serif' font-size="13.9" text-anchor="middle" textLength="48.3" lengthAdjust="spacingAndGlyphs">15 Mar</text>
<text x="943.7" y="729.2" font-family='"Liberation Sans", sans-serif' font-size="13.9" text-anchor="middle" textLength="45.8" lengthAdjust="spacingAndGlyphs">01 Apr</text>
<text x="1060.7" y="729.2" font-family='"Liberation Sans", sans-serif' font-size="13.9" text-anchor="middle" textLength="45.8" lengthAdjust="spacingAndGlyphs">15 Apr</text>
<text x="74.4" y="457.9" font-family='"Liberation Sans", sans-serif' font-size="25.3" textLength="324.0" lengthAdjust="spacingAndGlyphs">500mb Z (7 day Forecast)</text>
<text x="1184.6" y="457.9" font-family='"Liberation Sans", sans-serif' font-size="22.5" text-anchor="end" textLength="348.4" lengthAdjust="spacingAndGlyphs">mean=0.355; cor(w/obs)=0.9684</text>
<text transform="translate(33.9,590.7) rotate(-90)" font-family='"Liberation Sans", sans-serif' font-size="24.4" text-anchor="middle" textLength="58.5" lengthAdjust="spacingAndGlyphs">Index</text>
</g>
<g>
<defs><clipPath id="c2"><rect x="74.4" y="794.04" width="1111.348" height="241.0"/></clipPath></defs>
<g clip-path="url(#c2)">
<polygon points="74.4,896.2 82.8,896.9 91.1,896.9 99.5,898.8 107.8,902.5 116.2,907.5 124.5,904.4 132.9,901.9 141.2,907.5 149.6,921.2 158.0,932.5 166.3,933.1 174.7,926.2 183.0,923.1 191.4,913.1 199.7,908.1 208.1,905.0 216.5,910.0 224.8,913.1 233.2,918.1 241.5,920.6 249.9,921.9 258.2,916.2 266.6,910.0 274.9,908.8 283.3,908.8 291.7,907.5 300.0,903.8 308.4,900.2 316.7,904.8 325.1,902.5 333.4,897.5 341.8,891.2 350.1,888.1 358.5,887.8 366.9,889.0 375.2,892.2 383.6,892.2 391.9,891.9 400.3,894.0 408.6,901.2 417.0,907.5 425.4,911.9 433.7,911.2 442.1,910.2 450.4,907.5 458.8,904.8 467.1,908.1 475.5,911.5 483.8,912.2 492.2,911.5 500.6,913.8 508.9,920.0 517.3,927.5 525.6,929.0 534.0,927.5 542.3,920.0 550.7,915.0 559.0,911.0 567.4,910.0 575.8,902.5 584.1,896.2 592.5,892.2 600.8,893.8 609.2,895.0 617.5,893.8 625.9,892.8 634.3,891.2 642.6,889.4 651.0,885.6 659.3,881.0 667.7,877.5 676.0,871.9 684.4,870.0 692.7,868.8 701.1,869.0 709.5,868.1 717.8,868.1 726.2,875.0 734.5,882.5 742.9,886.2 751.2,887.2 759.6,885.6 767.9,883.5 776.3,878.5 784.7,874.8 793.0,870.0 801.4,866.9 809.7,866.5 818.1,865.6 826.4,864.4 834.8,859.4 843.2,855.6 851.5,857.5 859.9,866.2 868.2,883.8 876.6,893.5 884.9,893.1 893.3,878.8 901.6,867.5 910.0,863.1 918.4,863.8 926.7,864.4 935.1,865.0 943.4,865.6 951.8,872.5 960.1,881.0 968.5,879.8 976.8,873.8 985.2,867.5 993.6,869.0 1001.9,868.1 1010.3,867.2 1018.6,866.0 1027.0,864.8 1035.3,868.1 1043.7,869.6 1052.1,870.4 1060.4,874.2 1068.8,874.8 1077.1,878.8 1085.5,879.8 1093.8,883.1 1102.2,885.6 1110.5,885.2 1118.9,889.8 1127.3,901.2 1135.6,920.0 1144.0,935.0 1152.3,935.0 1152.3,967.5 1144.0,968.8 1135.6,961.9 1127.3,946.2 1118.9,931.2 1110.5,921.9 1102.2,920.0 1093.8,915.6 1085.5,912.2 1077.1,911.9 1068.8,909.4 1060.4,909.4 1052.1,904.9 1043.7,905.3 1035.3,903.5 1027.0,901.2 1018.6,898.5 1010.3,898.1 1001.9,896.5 993.6,895.6 985.2,895.6 976.8,906.2 968.5,915.6 960.1,917.2 951.8,908.8 943.4,901.0 935.1,898.5 926.7,896.9 918.4,892.1 910.0,892.2 901.6,897.5 893.3,914.4 884.9,928.5 876.6,929.0 868.2,917.5 859.9,896.2 851.5,885.0 843.2,877.8 834.8,881.2 826.4,885.0 818.1,886.0 809.7,885.6 801.4,887.5 793.0,890.6 784.7,896.5 776.3,900.0 767.9,903.1 759.6,904.0 751.2,904.8 742.9,904.4 734.5,901.9 726.2,897.5 717.8,890.6 709.5,887.5 701.1,888.1 692.7,891.2 684.4,890.0 676.0,891.9 667.7,896.2 659.3,903.1 651.0,911.2 642.6,913.5 634.3,916.1 625.9,915.6 617.5,915.0 609.2,913.8 600.8,910.0 592.5,907.5 584.1,911.9 575.8,918.8 567.4,925.6 559.0,927.5 550.7,935.6 542.3,941.0 534.0,946.9 525.6,947.2 517.3,946.5 508.9,940.6 500.6,934.7 492.2,931.2 483.8,930.6 475.5,929.8 467.1,928.8 458.8,927.2 450.4,928.5 442.1,930.6 433.7,935.0 425.4,936.5 417.0,934.8 408.6,927.5 400.3,921.9 391.9,919.4 383.6,920.0 375.2,920.6 366.9,917.8 358.5,917.2 350.1,916.9 341.8,919.0 333.4,926.2 325.1,931.2 316.7,931.2 308.4,926.2 300.0,931.0 291.7,934.4 283.3,935.2 274.9,934.4 266.6,934.4 258.2,945.0 249.9,953.1 241.5,961.9 233.2,961.9 224.8,957.5 216.5,954.4 208.1,950.6 199.7,948.8 191.4,950.0 183.0,951.9 174.7,956.2 166.3,962.5 158.0,963.1 149.6,955.0 141.2,945.0 132.9,938.8 124.5,936.9 116.2,934.4 107.8,930.6 99.5,927.5 91.1,927.5 82.8,927.5 74.4,928.1" fill="#ffdf40" stroke="#ffd81a" stroke-width="1" stroke-linejoin="round"/>
<path d="M74.5 1004.5H1185.5 M74.5 974.5H1185.5 M74.5 944.5H1185.5 M74.5 914.5H1185.5 M74.5 884.5H1185.5 M74.5 854.5H1185.5 M74.5 824.5H1185.5 M191.5 1035.5V794.5 M308.5 1035.5V794.5 M450.5 1035.5V794.5 M567.5 1035.5V794.5 M684.5 1035.5V794.5 M801.5 1035.5V794.5 M943.5 1035.5V794.5 M1060.5 1035.5V794.5" stroke="#b0b0b0" stroke-width="1.1" stroke-dasharray="4.1 1.8" fill="none"/>
<path d="M74.5 914.5H1185.5" stroke="#000" stroke-width="0.8"/>
<polyline points="74.4,883.8 82.8,879.4 91.1,880.0 99.5,878.5 107.8,886.2 116.2,891.2 124.5,886.5 132.9,884.4 141.2,885.6 149.6,901.9 158.0,907.5 166.3,915.0 174.7,906.9 183.0,906.0 191.4,895.6 199.7,890.0 208.1,886.0 216.5,888.8 224.8,891.2 233.2,894.0 241.5,893.8 249.9,899.4 258.2,897.8 266.6,898.5 274.9,896.2 283.3,897.5 291.7,892.2 300.0,891.0 308.4,885.2 316.7,891.0 325.1,887.2 333.4,888.1 341.8,879.8 350.1,874.0 358.5,874.0 366.9,874.0 375.2,881.2 383.6,878.5 391.9,880.2 400.3,876.5 408.6,885.2 417.0,889.4 425.4,894.0 433.7,894.8 442.1,895.2 450.4,894.8 458.8,892.2 467.1,895.6 475.5,900.2 483.8,903.1 492.2,899.8 500.6,901.9 508.9,905.0 517.3,915.0 525.6,917.5 534.0,915.0 542.3,908.5 550.7,902.5 559.0,901.0 567.4,897.5 575.8,890.6 584.1,885.0 592.5,883.5 600.8,883.8 609.2,884.0 617.5,882.2 625.9,881.2 634.3,880.0 642.6,876.9 651.0,872.5 659.3,868.8 667.7,867.2 676.0,859.8 684.4,859.0 692.7,856.2 701.1,858.1 709.5,857.5 717.8,858.8 726.2,863.8 734.5,870.6 742.9,875.0 751.2,878.1 759.6,875.0 767.9,871.2 776.3,866.2 784.7,863.8 793.0,862.5 801.4,858.1 809.7,856.2 818.1,853.8 826.4,853.1 834.8,848.5 843.2,846.2 851.5,849.0 859.9,850.2 868.2,863.1 876.6,870.0 884.9,876.2 893.3,865.0 901.6,854.0 910.0,850.2 918.4,853.3 926.7,852.2 935.1,851.2 943.4,851.9 951.8,860.6 960.1,866.9 968.5,867.2 976.8,859.8 985.2,853.1 993.6,851.5 1001.9,849.8 1010.3,848.8 1018.6,849.4 1027.0,850.2 1035.3,852.8 1043.7,853.3 1052.1,855.6 1060.4,863.6 1068.8,862.5 1077.1,864.4 1085.5,858.5 1093.8,865.6 1102.2,868.5 1110.5,868.5 1118.9,871.9 1127.3,880.6 1135.6,892.5 1144.0,906.0 1152.3,910.2" fill="none" stroke="#ff0000" stroke-width="1.2" stroke-linejoin="round"/>
<polyline points="74.4,952.2 82.8,948.1 91.1,944.8 99.5,943.1 107.8,943.8 116.2,946.9 124.5,949.4 132.9,956.2 141.2,961.2 149.6,971.2 158.0,978.8 166.3,979.0 174.7,968.8 183.0,963.5 191.4,966.5 199.7,972.5 208.1,973.5 216.5,976.2 224.8,978.1 233.2,976.9 241.5,971.9 249.9,961.9 258.2,957.5 266.6,946.2 274.9,949.8 283.3,951.5 291.7,953.1 300.0,946.9 308.4,941.5 316.7,946.2 325.1,945.0 333.4,938.8 341.8,931.2 350.1,929.4 358.5,933.1 366.9,934.4 375.2,939.4 383.6,935.2 391.9,935.2 400.3,933.1 408.6,943.1 417.0,948.8 425.4,950.2 433.7,948.1 442.1,941.2 450.4,936.2 458.8,935.6 467.1,938.1 475.5,939.4 483.8,941.2 492.2,943.1 500.6,949.9 508.9,953.1 517.3,956.2 525.6,954.0 534.0,953.8 542.3,948.1 550.7,943.5 559.0,936.0 567.4,936.9 575.8,930.6 584.1,923.1 592.5,915.0 600.8,916.2 609.2,923.8 617.5,928.1 625.9,931.0 634.3,932.5 642.6,930.6 651.0,926.9 659.3,916.2 667.7,905.0 676.0,899.4 684.4,900.0 692.7,902.5 701.1,900.0 709.5,898.1 717.8,905.0 726.2,911.9 734.5,914.4 742.9,912.5 751.2,912.5 759.6,915.2 767.9,915.0 776.3,910.6 784.7,911.0 793.0,906.9 801.4,904.8 809.7,899.4 818.1,902.2 826.4,900.0 834.8,895.0 843.2,891.2 851.5,898.8 859.9,911.2 868.2,932.5 876.6,946.2 884.9,951.9 893.3,941.9 901.6,923.8 910.0,914.0 918.4,918.8 926.7,929.8 935.1,928.5 943.4,922.5 951.8,928.8 960.1,936.0 968.5,933.1 976.8,919.4 985.2,909.0 993.6,908.1 1001.9,906.0 1010.3,908.1 1018.6,911.0 1027.0,923.1 1035.3,926.2 1043.7,930.5 1052.1,927.9 1060.4,939.1 1068.8,938.8 1077.1,941.0 1085.5,934.0 1093.8,936.5 1102.2,940.6 1110.5,944.4 1118.9,953.1 1127.3,965.0 1135.6,976.9 1144.0,980.2 1152.3,979.4" fill="none" stroke="#ff0000" stroke-width="1.2" stroke-linejoin="round"/>
<polyline points="74.4,911.2 82.8,911.6 91.1,911.9 99.5,912.2 107.8,915.6 116.2,920.6 124.5,920.0 132.9,919.8 141.2,925.6 149.6,936.9 158.0,946.9 166.3,947.2 174.7,941.0 183.0,937.5 191.4,930.2 199.7,927.5 208.1,925.6 216.5,931.9 224.8,935.6 233.2,940.0 241.5,940.6 249.9,936.9 258.2,930.0 266.6,921.2 274.9,921.2 283.3,921.9 291.7,920.0 300.0,916.9 308.4,913.1 316.7,917.5 325.1,917.5 333.4,914.4 341.8,905.6 350.1,901.9 358.5,902.1 366.9,902.5 375.2,906.2 383.6,905.6 391.9,905.0 400.3,907.5 408.6,915.0 417.0,921.0 425.4,923.8 433.7,922.5 442.1,919.8 450.4,916.9 458.8,914.8 467.1,916.9 475.5,920.6 483.8,921.2 492.2,921.0 500.6,924.6 508.9,930.0 517.3,936.9 525.6,938.1 534.0,936.9 542.3,929.8 550.7,924.8 559.0,919.4 567.4,917.8 575.8,911.2 584.1,905.0 592.5,900.0 600.8,901.5 609.2,903.8 617.5,904.4 625.9,904.4 634.3,903.8 642.6,901.0 651.0,897.5 659.3,891.2 667.7,886.2 676.0,881.2 684.4,879.8 692.7,879.4 701.1,877.8 709.5,876.9 717.8,878.5 726.2,885.0 734.5,891.2 742.9,895.0 751.2,895.2 759.6,894.0 767.9,892.5 776.3,888.1 784.7,884.8 793.0,880.0 801.4,876.9 809.7,875.6 818.1,875.6 826.4,874.4 834.8,870.0 843.2,866.0 851.5,870.6 859.9,882.5 868.2,901.2 876.6,910.6 884.9,910.6 893.3,896.9 901.6,883.1 910.0,876.9 918.4,877.4 926.7,880.2 935.1,881.5 943.4,884.4 951.8,891.2 960.1,898.8 968.5,896.9 976.8,889.0 985.2,881.2 993.6,881.5 1001.9,881.5 1010.3,882.2 1018.6,881.5 1027.0,882.8 1035.3,885.2 1043.7,887.2 1052.1,887.1 1060.4,891.2 1068.8,891.2 1077.1,895.6 1085.5,895.2 1093.8,898.8 1102.2,902.5 1110.5,902.8 1118.9,910.6 1127.3,926.2 1135.6,942.5 1144.0,951.5 1152.3,950.6" fill="none" stroke="#0000ff" stroke-width="2.1" stroke-linejoin="round"/>
<polyline points="74.4,894.9 82.8,897.6 91.1,906.9 99.5,916.3 107.8,923.6 116.2,925.6 124.5,928.5 132.9,935.2 141.2,942.3 149.6,948.9 158.0,952.3 166.3,953.6 174.7,954.6 183.0,952.0 191.4,948.9 199.7,948.6 208.1,950.3 216.5,950.6 224.8,949.6 233.2,945.6 241.5,939.1 249.9,931.4 258.2,926.1 266.6,922.8 274.9,915.6 283.3,910.3 291.7,905.6 300.0,905.3 308.4,906.1 316.7,908.1 325.1,904.1 333.4,898.6 341.8,893.6 350.1,893.9 358.5,898.6 366.9,909.4 375.2,921.4 383.6,927.4 391.9,926.9 400.3,923.6 408.6,923.6 417.0,928.2 425.4,932.4 433.7,932.8 442.1,926.9 450.4,921.1 458.8,916.3 467.1,914.9 475.5,916.6 483.8,920.6 492.2,926.3 500.6,931.6 508.9,933.6 517.3,932.4 525.6,929.8 534.0,928.3 542.3,924.9 550.7,917.3 559.0,907.4 567.4,899.4 575.8,898.9 584.1,905.6 592.5,913.1 600.8,915.6 609.2,911.1 617.5,900.3 625.9,888.6 634.3,880.6 642.6,876.9 651.0,870.6 659.3,861.9 667.7,854.8 676.0,851.6 684.4,855.3 692.7,859.4 701.1,865.6 709.5,871.1 717.8,876.9 726.2,882.8 734.5,885.3 742.9,883.6 751.2,879.4 759.6,875.6 767.9,872.8 776.3,872.3 784.7,873.1 793.0,873.1 801.4,874.6 809.7,877.3 818.1,879.8 826.4,875.3 834.8,866.1 843.2,857.3 851.5,855.8 859.9,857.4 868.2,859.3 876.6,860.3 884.9,863.1 893.3,865.3 901.6,867.4 910.0,866.6 918.4,868.1 926.7,866.4 935.1,864.8 943.4,864.8 951.8,868.6 960.1,872.4 968.5,874.1 976.8,875.8 985.2,880.4 993.6,880.4 1001.9,876.1 1010.3,872.4 1018.6,876.5 1027.0,886.1 1035.3,894.0 1043.7,894.9 1052.1,891.9 1060.4,887.4 1068.8,885.9" fill="none" stroke="#000" stroke-width="2.8" stroke-linejoin="round"/>
</g>
<rect x="74.5" y="794.5" width="1111.0" height="241.0" fill="none" stroke="#000" stroke-width="1.1"/>
<path d="M69.6 1035.5H74.5 M69.6 1004.5H74.5 M69.6 974.5H74.5 M69.6 944.5H74.5 M69.6 914.5H74.5 M69.6 884.5H74.5 M69.6 854.5H74.5 M69.6 824.5H74.5 M69.6 794.5H74.5 M191.5 1035.5V1040.4 M308.5 1035.5V1040.4 M450.5 1035.5V1040.4 M567.5 1035.5V1040.4 M684.5 1035.5V1040.4 M801.5 1035.5V1040.4 M943.5 1035.5V1040.4 M1060.5 1035.5V1040.4" stroke="#000" stroke-width="1.1"/>
<text x="62.9" y="1041.0" font-family='"Liberation Sans", sans-serif' font-size="14.3" text-anchor="end">4</text>
<rect x="45.1" y="1034.95" width="8.9" height="1.1" fill="#000"/>
<text x="62.9" y="1010.0" font-family='"Liberation Sans", sans-serif' font-size="14.3" text-anchor="end">3</text>
<rect x="45.1" y="1003.95" width="8.9" height="1.1" fill="#000"/>
<text x="62.9" y="980.0" font-family='"Liberation Sans", sans-serif' font-size="14.3" text-anchor="end">2</text>
<rect x="45.1" y="973.95" width="8.9" height="1.1" fill="#000"/>
<text x="62.9" y="950.0" font-family='"Liberation Sans", sans-serif' font-size="14.3" text-anchor="end">1</text>
<rect x="45.1" y="943.95" width="8.9" height="1.1" fill="#000"/>
<text x="64.6" y="920.0" font-family='"Liberation Sans", sans-serif' font-size="14.3" text-anchor="end">0</text>
<text x="64.6" y="890.0" font-family='"Liberation Sans", sans-serif' font-size="14.3" text-anchor="end">1</text>
<text x="64.6" y="860.0" font-family='"Liberation Sans", sans-serif' font-size="14.3" text-anchor="end">2</text>
<text x="64.6" y="830.0" font-family='"Liberation Sans", sans-serif' font-size="14.3" text-anchor="end">3</text>
<text x="64.6" y="800.0" font-family='"Liberation Sans", sans-serif' font-size="14.3" text-anchor="end">4</text>
<text x="191.7" y="1056.0" font-family='"Liberation Sans", sans-serif' font-size="13.9" text-anchor="middle" textLength="41.5" lengthAdjust="spacingAndGlyphs">01 Jan</text>
<text x="308.7" y="1056.0" font-family='"Liberation Sans", sans-serif' font-size="13.9" text-anchor="middle" textLength="41.5" lengthAdjust="spacingAndGlyphs">15 Jan</text>
<text x="450.7" y="1056.0" font-family='"Liberation Sans", sans-serif' font-size="13.9" text-anchor="middle" textLength="45.3" lengthAdjust="spacingAndGlyphs">01 Feb</text>
<text x="567.7" y="1056.0" font-family='"Liberation Sans", sans-serif' font-size="13.9" text-anchor="middle" textLength="45.3" lengthAdjust="spacingAndGlyphs">15 Feb</text>
<text x="684.7" y="1056.0" font-family='"Liberation Sans", sans-serif' font-size="13.9" text-anchor="middle" textLength="48.3" lengthAdjust="spacingAndGlyphs">01 Mar</text>
<text x="801.7" y="1056.0" font-family='"Liberation Sans", sans-serif' font-size="13.9" text-anchor="middle" textLength="48.3" lengthAdjust="spacingAndGlyphs">15 Mar</text>
<text x="943.7" y="1056.0" font-family='"Liberation Sans", sans-serif' font-size="13.9" text-anchor="middle" textLength="45.8" lengthAdjust="spacingAndGlyphs">01 Apr</text>
<text x="1060.7" y="1056.0" font-family='"Liberation Sans", sans-serif' font-size="13.9" text-anchor="middle" textLength="45.8" lengthAdjust="spacingAndGlyphs">15 Apr</text>
<text x="74.4" y="784.9" font-family='"Liberation Sans", sans-serif' font-size="25.3" textLength="339.4" lengthAdjust="spacingAndGlyphs">500mb Z (10 day Forecast)</text>
<text x="1184.6" y="784.9" font-family='"Liberation Sans", sans-serif' font-size="22.5" text-anchor="end" textLength="362.6" lengthAdjust="spacingAndGlyphs">mean=0.2894; cor(w/obs)=0.8839</text>
<text transform="translate(33.9,917.5) rotate(-90)" font-family='"Liberation Sans", sans-serif' font-size="24.4" text-anchor="middle" textLength="58.5" lengthAdjust="spacingAndGlyphs">Index</text>
</g>
<g>
<defs><clipPath id="c3"><rect x="74.4" y="1120.8600000000001" width="1111.348" height="241.0"/></clipPath></defs>
<g clip-path="url(#c3)">
<polygon points="74.4,1215.0 82.8,1215.0 91.1,1213.5 99.5,1218.8 107.8,1219.0 116.2,1219.8 124.5,1216.5 132.9,1216.2 141.2,1220.0 149.6,1223.8 158.0,1226.9 166.3,1229.4 174.7,1233.1 183.0,1236.5 191.4,1233.1 199.7,1225.0 208.1,1217.2 216.5,1217.5 224.8,1216.9 233.2,1215.6 241.5,1215.6 249.9,1222.8 258.2,1230.6 266.6,1233.5 274.9,1231.2 283.3,1228.8 291.7,1226.2 300.0,1224.8 308.4,1225.0 316.7,1224.8 325.1,1224.4 333.4,1221.9 341.8,1220.2 350.1,1221.5 358.5,1222.8 366.9,1222.8 375.2,1218.5 383.6,1216.2 391.9,1216.9 400.3,1214.8 408.6,1211.5 417.0,1208.8 425.4,1208.5 433.7,1215.6 442.1,1221.9 450.4,1226.9 458.8,1227.2 467.1,1228.1 475.5,1231.0 483.8,1233.1 492.2,1233.5 500.6,1237.6 508.9,1241.0 517.3,1240.0 525.6,1238.8 534.0,1238.5 542.3,1241.5 550.7,1241.9 559.0,1237.5 567.4,1231.2 575.8,1226.2 584.1,1223.8 592.5,1222.2 600.8,1221.9 609.2,1222.5 617.5,1223.8 625.9,1221.2 634.3,1218.3 642.6,1214.4 651.0,1213.5 659.3,1213.1 667.7,1212.5 676.0,1206.9 684.4,1203.1 692.7,1202.5 701.1,1205.0 709.5,1207.2 717.8,1209.0 726.2,1210.0 734.5,1209.8 742.9,1210.6 751.2,1211.5 759.6,1213.1 767.9,1212.8 776.3,1211.0 784.7,1205.0 793.0,1200.0 801.4,1197.2 809.7,1194.4 818.1,1192.8 826.4,1191.0 834.8,1191.9 843.2,1191.9 851.5,1193.8 859.9,1192.5 868.2,1193.1 876.6,1194.0 884.9,1201.2 893.3,1208.8 901.6,1221.2 910.0,1221.9 918.4,1221.9 926.7,1211.9 935.1,1208.8 943.4,1203.8 951.8,1201.9 960.1,1204.4 968.5,1212.5 976.8,1217.5 985.2,1221.5 993.6,1218.1 1001.9,1207.5 1010.3,1200.0 1018.6,1193.1 1027.0,1200.0 1035.3,1198.8 1043.7,1199.2 1052.1,1196.7 1060.4,1197.4 1068.8,1197.8 1077.1,1198.5 1085.5,1195.6 1093.8,1197.2 1102.2,1198.8 1110.5,1205.0 1118.9,1209.4 1127.3,1216.9 1135.6,1224.4 1144.0,1225.6 1152.3,1231.2 1160.7,1232.5 1169.0,1243.8 1177.4,1241.0 1185.7,1243.1 1185.7,1283.1 1177.4,1285.2 1169.0,1288.8 1160.7,1285.6 1152.3,1285.6 1144.0,1284.4 1135.6,1276.9 1127.3,1265.0 1118.9,1252.5 1110.5,1252.5 1102.2,1248.1 1093.8,1248.5 1085.5,1243.8 1077.1,1248.1 1068.8,1245.0 1060.4,1241.9 1052.1,1239.4 1043.7,1238.8 1035.3,1237.5 1027.0,1231.2 1018.6,1233.1 1010.3,1246.2 1001.9,1259.4 993.6,1265.0 985.2,1264.4 976.8,1262.5 968.5,1259.4 960.1,1250.6 951.8,1246.2 943.4,1242.5 935.1,1252.5 926.7,1260.0 918.4,1271.5 910.0,1270.6 901.6,1265.0 893.3,1248.8 884.9,1236.2 876.6,1225.6 868.2,1223.1 859.9,1219.8 851.5,1222.5 843.2,1225.0 834.8,1229.0 826.4,1231.9 818.1,1229.4 809.7,1225.6 801.4,1227.5 793.0,1233.1 784.7,1238.5 776.3,1242.5 767.9,1242.8 759.6,1242.5 751.2,1239.0 742.9,1238.1 734.5,1235.2 726.2,1234.4 717.8,1233.1 709.5,1234.4 701.1,1231.9 692.7,1232.8 684.4,1236.0 676.0,1241.0 667.7,1244.8 659.3,1242.8 651.0,1242.5 642.6,1243.5 634.3,1246.0 625.9,1246.0 617.5,1246.9 609.2,1246.2 600.8,1247.5 592.5,1247.5 584.1,1250.6 575.8,1252.5 567.4,1258.1 559.0,1264.4 550.7,1268.1 542.3,1270.0 534.0,1267.2 525.6,1267.8 517.3,1268.5 508.9,1266.9 500.6,1265.8 492.2,1261.0 483.8,1259.4 475.5,1255.2 467.1,1256.2 458.8,1257.5 450.4,1260.2 442.1,1256.9 433.7,1253.5 425.4,1250.0 417.0,1247.8 408.6,1248.8 400.3,1249.4 391.9,1250.6 383.6,1250.6 375.2,1251.2 366.9,1253.8 358.5,1255.8 350.1,1254.8 341.8,1252.2 333.4,1255.6 325.1,1257.2 316.7,1258.5 308.4,1256.2 300.0,1255.0 291.7,1258.1 283.3,1262.5 274.9,1268.8 266.6,1274.0 258.2,1275.2 249.9,1273.8 241.5,1271.0 233.2,1268.8 224.8,1267.8 216.5,1271.2 208.1,1278.1 199.7,1283.8 191.4,1286.5 183.0,1278.5 174.7,1276.2 166.3,1275.0 158.0,1274.8 149.6,1267.5 141.2,1261.2 132.9,1255.6 124.5,1261.0 116.2,1257.2 107.8,1261.0 99.5,1254.4 91.1,1252.5 82.8,1252.5 74.4,1257.5" fill="#ffdf40" stroke="#ffd81a" stroke-width="1" stroke-linejoin="round"/>
<path d="M74.5 1331.5H1185.5 M74.5 1301.5H1185.5 M74.5 1271.5H1185.5 M74.5 1241.5H1185.5 M74.5 1211.5H1185.5 M74.5 1181.5H1185.5 M74.5 1150.5H1185.5 M191.5 1361.5V1120.5 M308.5 1361.5V1120.5 M450.5 1361.5V1120.5 M567.5 1361.5V1120.5 M684.5 1361.5V1120.5 M801.5 1361.5V1120.5 M943.5 1361.5V1120.5 M1060.5 1361.5V1120.5" stroke="#b0b0b0" stroke-width="1.1" stroke-dasharray="4.1 1.8" fill="none"/>
<path d="M74.5 1241.5H1185.5" stroke="#000" stroke-width="0.8"/>
<polyline points="74.4,1198.1 82.8,1202.2 91.1,1199.4 99.5,1203.8 107.8,1196.9 116.2,1199.4 124.5,1193.1 132.9,1195.6 141.2,1198.1 149.6,1197.8 158.0,1203.1 166.3,1207.2 174.7,1211.5 183.0,1211.5 191.4,1191.9 199.7,1181.5 208.1,1176.2 216.5,1188.8 224.8,1196.9 233.2,1195.0 241.5,1200.0 249.9,1205.2 258.2,1212.2 266.6,1211.0 274.9,1214.8 283.3,1217.5 291.7,1217.5 300.0,1214.4 308.4,1210.2 316.7,1208.1 325.1,1205.6 333.4,1201.9 341.8,1196.9 350.1,1199.4 358.5,1202.4 366.9,1205.6 375.2,1203.1 383.6,1201.2 391.9,1205.0 400.3,1201.9 408.6,1196.2 417.0,1190.6 425.4,1187.5 433.7,1196.2 442.1,1201.2 450.4,1201.5 458.8,1202.5 467.1,1205.2 475.5,1216.2 483.8,1220.2 492.2,1219.6 500.6,1224.6 508.9,1225.6 517.3,1221.9 525.6,1216.5 534.0,1219.4 542.3,1228.1 550.7,1229.4 559.0,1221.9 567.4,1213.8 575.8,1211.2 584.1,1210.6 592.5,1208.5 600.8,1209.4 609.2,1210.6 617.5,1210.2 625.9,1205.6 634.3,1201.2 642.6,1198.8 651.0,1197.5 659.3,1195.2 667.7,1197.2 676.0,1192.5 684.4,1193.5 692.7,1193.1 701.1,1198.1 709.5,1198.1 717.8,1200.0 726.2,1196.5 734.5,1197.2 742.9,1192.5 751.2,1195.0 759.6,1198.5 767.9,1201.0 776.3,1200.6 784.7,1191.2 793.0,1186.9 801.4,1183.1 809.7,1182.8 818.1,1178.5 826.4,1176.5 834.8,1176.9 843.2,1180.2 851.5,1181.0 859.9,1180.0 868.2,1175.0 876.6,1174.0 884.9,1180.0 893.3,1189.8 901.6,1201.9 910.0,1203.5 918.4,1199.4 926.7,1191.2 935.1,1188.1 943.4,1186.9 951.8,1183.8 960.1,1182.5 968.5,1188.8 976.8,1193.1 985.2,1196.5 993.6,1189.4 1001.9,1181.5 1010.3,1177.2 1018.6,1177.2 1027.0,1186.2 1035.3,1181.9 1043.7,1182.5 1052.1,1178.3 1060.4,1182.6 1068.8,1178.8 1077.1,1178.5 1085.5,1173.1 1093.8,1177.5 1102.2,1178.5 1110.5,1191.2 1118.9,1190.0 1127.3,1195.2 1135.6,1191.9 1144.0,1188.1 1152.3,1196.9 1160.7,1202.5 1169.0,1221.2 1177.4,1214.4 1185.7,1217.5" fill="none" stroke="#ff0000" stroke-width="1.2" stroke-linejoin="round"/>
<polyline points="74.4,1279.4 82.8,1274.0 91.1,1282.5 99.5,1279.8 107.8,1286.5 116.2,1272.5 124.5,1283.5 132.9,1277.5 141.2,1286.0 149.6,1284.8 158.0,1293.8 166.3,1292.2 174.7,1294.4 183.0,1294.8 191.4,1303.1 199.7,1303.5 208.1,1296.9 216.5,1291.0 224.8,1290.2 233.2,1296.9 241.5,1300.0 249.9,1300.0 258.2,1295.0 266.6,1289.8 274.9,1284.4 283.3,1279.4 291.7,1275.6 300.0,1273.8 308.4,1273.1 316.7,1276.0 325.1,1272.8 333.4,1268.8 341.8,1265.0 350.1,1270.0 358.5,1276.1 366.9,1271.5 375.2,1271.2 383.6,1267.8 391.9,1275.2 400.3,1273.5 408.6,1279.4 417.0,1278.5 425.4,1279.4 433.7,1272.2 442.1,1271.0 450.4,1271.0 458.8,1266.9 467.1,1266.5 475.5,1266.2 483.8,1273.8 492.2,1275.6 500.6,1278.6 508.9,1278.5 517.3,1280.6 525.6,1282.8 534.0,1284.4 542.3,1285.6 550.7,1283.1 559.0,1278.1 567.4,1275.0 575.8,1268.8 584.1,1266.9 592.5,1260.6 600.8,1262.2 609.2,1260.6 617.5,1261.0 625.9,1257.8 634.3,1264.1 642.6,1260.6 651.0,1262.5 659.3,1257.2 667.7,1267.5 676.0,1264.0 684.4,1257.8 692.7,1246.0 701.1,1247.2 709.5,1249.4 717.8,1245.6 726.2,1244.8 734.5,1246.5 742.9,1253.8 751.2,1257.5 759.6,1261.2 767.9,1261.5 776.3,1263.1 784.7,1258.8 793.0,1251.0 801.4,1241.2 809.7,1240.2 818.1,1251.0 826.4,1261.0 834.8,1255.6 843.2,1250.6 851.5,1241.2 859.9,1236.5 868.2,1236.2 876.6,1239.8 884.9,1256.2 893.3,1268.1 901.6,1280.0 910.0,1292.5 918.4,1295.4 926.7,1286.9 935.1,1275.0 943.4,1269.4 951.8,1278.8 960.1,1281.2 968.5,1287.2 976.8,1286.0 985.2,1284.8 993.6,1283.8 1001.9,1283.1 1010.3,1269.4 1018.6,1265.0 1027.0,1258.5 1035.3,1269.4 1043.7,1265.7 1052.1,1262.4 1060.4,1261.4 1068.8,1258.1 1077.1,1264.0 1085.5,1265.0 1093.8,1284.0 1102.2,1284.8 1110.5,1290.6 1118.9,1281.0 1127.3,1291.5 1135.6,1295.6 1144.0,1305.6 1152.3,1304.4 1160.7,1310.6 1169.0,1308.5 1177.4,1305.0 1185.7,1298.1" fill="none" stroke="#ff0000" stroke-width="1.2" stroke-linejoin="round"/>
<polyline points="74.4,1236.2 82.8,1233.1 91.1,1232.5 99.5,1236.2 107.8,1239.4 116.2,1237.5 124.5,1237.8 132.9,1235.0 141.2,1240.6 149.6,1245.6 158.0,1250.6 166.3,1251.5 174.7,1254.4 183.0,1257.5 191.4,1259.8 199.7,1253.8 208.1,1246.5 216.5,1243.8 224.8,1241.2 233.2,1241.0 241.5,1241.0 249.9,1247.5 258.2,1251.9 266.6,1253.8 274.9,1250.0 283.3,1245.0 291.7,1241.9 300.0,1239.4 308.4,1240.0 316.7,1240.6 325.1,1240.0 333.4,1238.1 341.8,1235.6 350.1,1238.1 358.5,1239.0 366.9,1237.5 375.2,1234.4 383.6,1233.1 391.9,1235.0 400.3,1231.9 408.6,1229.8 417.0,1227.8 425.4,1229.0 433.7,1234.4 442.1,1239.4 450.4,1243.1 458.8,1241.5 467.1,1241.0 475.5,1242.5 483.8,1246.0 492.2,1246.9 500.6,1251.2 508.9,1253.1 517.3,1254.8 525.6,1252.8 534.0,1252.5 542.3,1256.0 550.7,1255.2 559.0,1250.6 567.4,1243.8 575.8,1239.0 584.1,1236.9 592.5,1235.0 600.8,1234.8 609.2,1233.8 617.5,1234.8 625.9,1233.1 634.3,1231.2 642.6,1228.1 651.0,1228.1 659.3,1227.8 667.7,1228.8 676.0,1223.8 684.4,1218.8 692.7,1216.9 701.1,1217.5 709.5,1220.2 717.8,1220.2 726.2,1221.9 734.5,1222.2 742.9,1223.8 751.2,1224.8 759.6,1227.5 767.9,1227.5 776.3,1227.2 784.7,1222.5 793.0,1216.9 801.4,1212.5 809.7,1210.0 818.1,1210.6 826.4,1211.0 834.8,1209.8 843.2,1207.8 851.5,1207.2 859.9,1205.6 868.2,1208.1 876.6,1210.2 884.9,1219.4 893.3,1228.8 901.6,1242.5 910.0,1246.2 918.4,1246.4 926.7,1235.0 935.1,1230.0 943.4,1222.2 951.8,1223.1 960.1,1226.2 968.5,1235.6 976.8,1239.8 985.2,1242.8 993.6,1240.6 1001.9,1232.5 1010.3,1222.2 1018.6,1211.9 1027.0,1215.0 1035.3,1218.1 1043.7,1218.9 1052.1,1217.5 1060.4,1219.5 1068.8,1220.6 1077.1,1222.8 1085.5,1219.0 1093.8,1222.5 1102.2,1222.8 1110.5,1228.5 1118.9,1230.2 1127.3,1239.8 1135.6,1250.6 1144.0,1254.4 1152.3,1258.1 1160.7,1258.1 1169.0,1266.0 1177.4,1262.8 1185.7,1263.1" fill="none" stroke="#0000ff" stroke-width="2.1" stroke-linejoin="round"/>
<polyline points="74.4,1221.8 82.8,1224.5 91.1,1233.8 99.5,1243.2 107.8,1250.5 116.2,1252.5 124.5,1255.4 132.9,1262.1 141.2,1269.2 149.6,1275.8 158.0,1279.2 166.3,1280.5 174.7,1281.5 183.0,1278.9 191.4,1275.8 199.7,1275.5 208.1,1277.2 216.5,1277.5 224.8,1276.5 233.2,1272.5 241.5,1266.0 249.9,1258.3 258.2,1253.0 266.6,1249.7 274.9,1242.5 283.3,1237.2 291.7,1232.5 300.0,1232.2 308.4,1233.0 316.7,1235.0 325.1,1231.0 333.4,1225.5 341.8,1220.5 350.1,1220.8 358.5,1225.5 366.9,1236.3 375.2,1248.3 383.6,1254.3 391.9,1253.8 400.3,1250.5 408.6,1250.5 417.0,1255.1 425.4,1259.3 433.7,1259.7 442.1,1253.8 450.4,1248.0 458.8,1243.2 467.1,1241.8 475.5,1243.5 483.8,1247.5 492.2,1253.2 500.6,1258.5 508.9,1260.5 517.3,1259.3 525.6,1256.7 534.0,1255.2 542.3,1251.8 550.7,1244.2 559.0,1234.3 567.4,1226.3 575.8,1225.8 584.1,1232.5 592.5,1240.0 600.8,1242.5 609.2,1238.0 617.5,1227.2 625.9,1215.5 634.3,1207.5 642.6,1203.8 651.0,1197.5 659.3,1188.8 667.7,1181.7 676.0,1178.5 684.4,1182.2 692.7,1186.3 701.1,1192.5 709.5,1198.0 717.8,1203.8 726.2,1209.7 734.5,1212.2 742.9,1210.5 751.2,1206.3 759.6,1202.5 767.9,1199.7 776.3,1199.2 784.7,1200.0 793.0,1200.0 801.4,1201.5 809.7,1204.2 818.1,1206.7 826.4,1202.2 834.8,1193.0 843.2,1184.2 851.5,1182.7 859.9,1184.3 868.2,1186.2 876.6,1187.2 884.9,1190.0 893.3,1192.2 901.6,1194.3 910.0,1193.5 918.4,1195.0 926.7,1193.3 935.1,1191.7 943.4,1191.7 951.8,1195.5 960.1,1199.3 968.5,1201.0 976.8,1202.7 985.2,1207.3 993.6,1207.3 1001.9,1203.0 1010.3,1199.2 1018.6,1203.4 1027.0,1213.0 1035.3,1220.9 1043.7,1221.7 1052.1,1218.8 1060.4,1214.2 1068.8,1212.8" fill="none" stroke="#000" stroke-width="2.8" stroke-linejoin="round"/>
</g>
<rect x="74.5" y="1120.5" width="1111.0" height="241.0" fill="none" stroke="#000" stroke-width="1.1"/>
<path d="M69.6 1361.5H74.5 M69.6 1331.5H74.5 M69.6 1301.5H74.5 M69.6 1271.5H74.5 M69.6 1241.5H74.5 M69.6 1211.5H74.5 M69.6 1181.5H74.5 M69.6 1150.5H74.5 M69.6 1120.5H74.5 M191.5 1361.5V1366.4 M308.5 1361.5V1366.4 M450.5 1361.5V1366.4 M567.5 1361.5V1366.4 M684.5 1361.5V1366.4 M801.5 1361.5V1366.4 M943.5 1361.5V1366.4 M1060.5 1361.5V1366.4" stroke="#000" stroke-width="1.1"/>
<text x="62.9" y="1367.0" font-family='"Liberation Sans", sans-serif' font-size="14.3" text-anchor="end">4</text>
<rect x="45.1" y="1360.95" width="8.9" height="1.1" fill="#000"/>
<text x="62.9" y="1337.0" font-family='"Liberation Sans", sans-serif' font-size="14.3" text-anchor="end">3</text>
<rect x="45.1" y="1330.95" width="8.9" height="1.1" fill="#000"/>
<text x="62.9" y="1307.0" font-family='"Liberation Sans", sans-serif' font-size="14.3" text-anchor="end">2</text>
<rect x="45.1" y="1300.95" width="8.9" height="1.1" fill="#000"/>
<text x="62.9" y="1277.0" font-family='"Liberation Sans", sans-serif' font-size="14.3" text-anchor="end">1</text>
<rect x="45.1" y="1270.95" width="8.9" height="1.1" fill="#000"/>
<text x="64.6" y="1247.0" font-family='"Liberation Sans", sans-serif' font-size="14.3" text-anchor="end">0</text>
<text x="64.6" y="1217.0" font-family='"Liberation Sans", sans-serif' font-size="14.3" text-anchor="end">1</text>
<text x="64.6" y="1187.0" font-family='"Liberation Sans", sans-serif' font-size="14.3" text-anchor="end">2</text>
<text x="64.6" y="1156.0" font-family='"Liberation Sans", sans-serif' font-size="14.3" text-anchor="end">3</text>
<text x="64.6" y="1126.0" font-family='"Liberation Sans", sans-serif' font-size="14.3" text-anchor="end">4</text>
<text x="191.7" y="1382.9" font-family='"Liberation Sans", sans-serif' font-size="13.9" text-anchor="middle" textLength="41.5" lengthAdjust="spacingAndGlyphs">01 Jan</text>
<text x="308.7" y="1382.9" font-family='"Liberation Sans", sans-serif' font-size="13.9" text-anchor="middle" textLength="41.5" lengthAdjust="spacingAndGlyphs">15 Jan</text>
<text x="450.7" y="1382.9" font-family='"Liberation Sans", sans-serif' font-size="13.9" text-anchor="middle" textLength="45.3" lengthAdjust="spacingAndGlyphs">01 Feb</text>
<text x="567.7" y="1382.9" font-family='"Liberation Sans", sans-serif' font-size="13.9" text-anchor="middle" textLength="45.3" lengthAdjust="spacingAndGlyphs">15 Feb</text>
<text x="684.7" y="1382.9" font-family='"Liberation Sans", sans-serif' font-size="13.9" text-anchor="middle" textLength="48.3" lengthAdjust="spacingAndGlyphs">01 Mar</text>
<text x="801.7" y="1382.9" font-family='"Liberation Sans", sans-serif' font-size="13.9" text-anchor="middle" textLength="48.3" lengthAdjust="spacingAndGlyphs">15 Mar</text>
<text x="943.7" y="1382.9" font-family='"Liberation Sans", sans-serif' font-size="13.9" text-anchor="middle" textLength="45.8" lengthAdjust="spacingAndGlyphs">01 Apr</text>
<text x="1060.7" y="1382.9" font-family='"Liberation Sans", sans-serif' font-size="13.9" text-anchor="middle" textLength="45.8" lengthAdjust="spacingAndGlyphs">15 Apr</text>
<text x="74.4" y="1111.9" font-family='"Liberation Sans", sans-serif' font-size="25.3" textLength="339.4" lengthAdjust="spacingAndGlyphs">500mb Z (14 day Forecast)</text>
<text x="1184.6" y="1111.9" font-family='"Liberation Sans", sans-serif' font-size="22.5" text-anchor="end" textLength="362.6" lengthAdjust="spacingAndGlyphs">mean=0.2293; cor(w/obs)=0.7257</text>
<text transform="translate(33.9,1244.4) rotate(-90)" font-family='"Liberation Sans", sans-serif' font-size="24.4" text-anchor="middle" textLength="58.5" lengthAdjust="spacingAndGlyphs">Index</text>
</g>
</svg></body></html>
